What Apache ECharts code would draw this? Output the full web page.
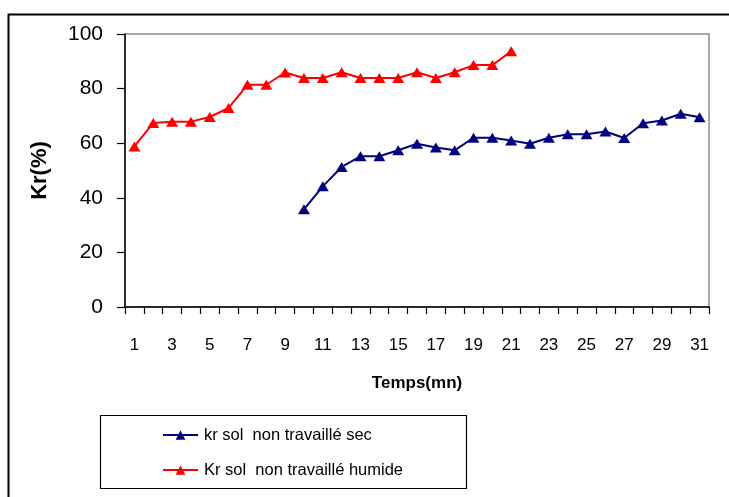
<!DOCTYPE html>
<html>
<head>
<meta charset="utf-8">
<script src="https://cdn.jsdelivr.net/npm/echarts@6/dist/echarts.min.js"></script>
<style>html,body{margin:0;padding:0;background:#fff}#c{width:729px;height:497px}</style>
</head>
<body>
<div id="c"></div>
<script>
var categories = ['1','2','3','4','5','6','7','8','9','10','11','12','13','14','15','16','17','18','19','20','21','22','23','24','25','26','27','28','29','30','31'];
var secValues = [null,null,null,null,null,null,null,null,null,35.8,44.2,51.3,55.2,55.2,57.4,59.8,58.4,57.4,62,62,61,59.8,62,63.3,63.3,64.3,61.9,67.3,68.3,70.8,69.5];
var humideValues = [58.8,67.4,67.9,67.9,69.6,72.9,81.4,81.4,85.9,83.9,83.9,86,83.9,83.9,83.9,86,83.9,86,88.6,88.6,93.7,null,null,null,null,null,null,null,null,null,null];
var seriesNames = ['kr sol  non travaillé sec', 'Kr sol  non travaillé humide'];
var yTicks = {min: 0, max: 100, interval: 20};

var FONT = 'Liberation Sans, Arial, sans-serif';
var chart = echarts.init(document.getElementById('c'), null, {renderer: 'canvas'});
chart.setOption({
  animation: false,
  backgroundColor: '#fff',
  graphic: [
    {type: 'rect', shape: {x: 8.5, y: 14.5, width: 800, height: 600}, style: {fill: 'none', stroke: '#000', lineWidth: 2}, z: 0},
    {type: 'rect', shape: {x: 100.5, y: 415.5, width: 366, height: 73}, style: {fill: '#fff', stroke: '#000', lineWidth: 1.2}, z: 1}
  ],
  grid: {left: 125, top: 34, right: 20, bottom: 190, show: true, borderColor: '#8c8c8c', borderWidth: 1.5, backgroundColor: 'transparent'},
  legend: {
    orient: 'vertical', left: 162, top: 424, itemGap: 13, itemWidth: 35, itemHeight: 12,
    padding: 0,
    textStyle: {fontFamily: FONT, fontSize: 16.5, color: '#000', lineHeight: 22, padding: [0, 0, 0, 1]},
    data: seriesNames, z: 5
  },
  xAxis: {
    type: 'category', data: categories, boundaryGap: true,
    name: 'Temps(mn)', nameLocation: 'middle', nameGap: 68,
    nameTextStyle: {fontFamily: FONT, fontSize: 17, fontWeight: 'bold', color: '#000'},
    axisLine: {lineStyle: {color: '#000', width: 1.5}},
    axisTick: {show: true, interval: 0, length: 7, alignWithLabel: false, lineStyle: {color: '#000', width: 1.2}},
    axisLabel: {interval: 1, margin: 30, fontFamily: FONT, fontSize: 17, color: '#000'},
    splitLine: {show: false}
  },
  yAxis: {
    type: 'value', min: yTicks.min, max: yTicks.max, interval: yTicks.interval,
    name: 'Kr(%)', nameLocation: 'middle', nameGap: 74,
    nameTextStyle: {fontFamily: FONT, fontSize: 22, fontWeight: 'bold', color: '#000'},
    axisLine: {show: true, lineStyle: {color: '#000', width: 1.5}},
    axisTick: {show: true, length: 8, lineStyle: {color: '#000', width: 1.2}},
    axisLabel: {margin: 22, fontFamily: FONT, fontSize: 21, color: '#000'},
    splitLine: {show: false}
  },
  series: [
    {name: seriesNames[0], type: 'line', data: secValues, connectNulls: false,
     symbol: 'triangle', symbolSize: [12, 10], showAllSymbol: true,
     lineStyle: {color: '#000080', width: 2}, itemStyle: {color: '#000080'}, z: 3},
    {name: seriesNames[1], type: 'line', data: humideValues, connectNulls: false,
     symbol: 'triangle', symbolSize: [12, 10], showAllSymbol: true,
     lineStyle: {color: '#ff0000', width: 2}, itemStyle: {color: '#ff0000'}, z: 3}
  ]
});
</script>
</body>
</html>
